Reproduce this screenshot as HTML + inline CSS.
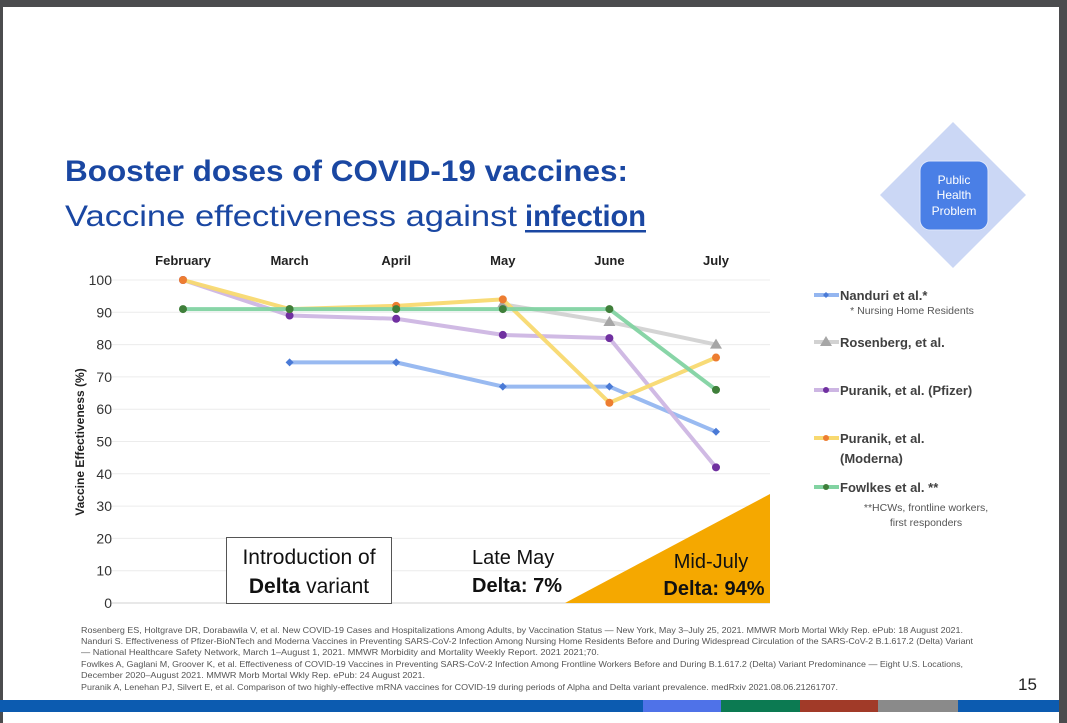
<!DOCTYPE html>
<html><head><meta charset="utf-8"><style>
html,body{margin:0;padding:0;background:#fff}
svg{display:block;font-family:"Liberation Sans",sans-serif}
</style></head><body>
<svg id="c" width="1067" height="723" viewBox="0 0 1067 723" xmlns="http://www.w3.org/2000/svg">
<rect x="0" y="0" width="1067" height="723" fill="#ffffff"/>
<rect x="0" y="0" width="1067" height="7" fill="#4b4c4e"/>
<rect x="0" y="0" width="3" height="723" fill="#4b4c4e"/>
<rect x="1059" y="0" width="8" height="723" fill="#4b4c4e"/>
<text x="65" y="181" font-size="30" font-weight="bold" fill="#1a47a2" textLength="563" lengthAdjust="spacingAndGlyphs">Booster doses of COVID-19 vaccines:</text>
<text x="65" y="226" font-size="30" fill="#1a47a2" textLength="452" lengthAdjust="spacingAndGlyphs">Vaccine effectiveness against</text>
<text x="525" y="226" font-size="30" font-weight="bold" fill="#1a47a2" textLength="121" lengthAdjust="spacingAndGlyphs">infection</text>
<rect x="525" y="230" width="121" height="2.5" fill="#1a47a2"/>
<polygon points="953,122 1026,195 953,268 880,195" fill="#cbd7f5"/>
<rect x="920" y="161" width="68" height="69" rx="10" fill="#4a7fe6" stroke="#dde6fb"/>
<text font-size="12" fill="#fff" text-anchor="middle"><tspan x="954" y="184">Public</tspan><tspan x="954" y="199">Health</tspan><tspan x="954" y="215">Problem</tspan></text>
<g id="chart"></g>
<g id="legend"></g>
<g font-size="8.4" fill="#555" lengthAdjust="spacingAndGlyphs">
<text x="81" y="633" textLength="882" lengthAdjust="spacingAndGlyphs">Rosenberg ES, Holtgrave DR, Dorabawila V, et al. New COVID-19 Cases and Hospitalizations Among Adults, by Vaccination Status — New York, May 3–July 25, 2021. MMWR Morb Mortal Wkly Rep. ePub: 18 August 2021.</text>
<text x="81" y="644" textLength="892" lengthAdjust="spacingAndGlyphs">Nanduri S. Effectiveness of Pfizer-BioNTech and Moderna Vaccines in Preventing SARS-CoV-2 Infection Among Nursing Home Residents Before and During Widespread Circulation of the SARS-CoV-2 B.1.617.2 (Delta) Variant</text>
<text x="81" y="655" textLength="518" lengthAdjust="spacingAndGlyphs">— National Healthcare Safety Network, March 1–August 1, 2021. MMWR Morbidity and Mortality Weekly Report. 2021 2021;70.</text>
<text x="81" y="667" textLength="882" lengthAdjust="spacingAndGlyphs">Fowlkes A, Gaglani M, Groover K, et al. Effectiveness of COVID-19 Vaccines in Preventing SARS-CoV-2 Infection Among Frontline Workers Before and During B.1.617.2 (Delta) Variant Predominance — Eight U.S. Locations,</text>
<text x="81" y="678" textLength="344" lengthAdjust="spacingAndGlyphs">December 2020–August 2021. MMWR Morb Mortal Wkly Rep. ePub: 24 August 2021.</text>
<text x="81" y="690" textLength="757" lengthAdjust="spacingAndGlyphs">Puranik A, Lenehan PJ, Silvert E, et al. Comparison of two highly-effective mRNA vaccines for COVID-19 during periods of Alpha and Delta variant prevalence. medRxiv 2021.08.06.21261707.</text>
</g>
<text x="1018" y="690" font-size="17" fill="#222">15</text>
<g>
<rect x="0" y="700" width="1059" height="12" fill="#0c5bb0"/>
<rect x="643" y="700" width="78" height="12" fill="#4f72e8"/>
<rect x="721" y="700" width="79" height="12" fill="#0c7a52"/>
<rect x="800" y="700" width="78" height="12" fill="#a13a28"/>
<rect x="878" y="700" width="80" height="12" fill="#8a8a8a"/>
</g>
</svg>
<script>
const months = ["February","March","April","May","June","July"];
const yTicks = [0,10,20,30,40,50,60,70,80,90,100];
const nanduri = [null,74.5,74.5,67,67,53];
const rosenberg = [null,null,null,92.5,87,80];
const pfizer = [100,89,88,83,82,42];
const moderna = [100,91,92,94,62,76];
const fowlkes = [91,91,91,91,91,66];
const seriesNames = ["Nanduri et al.*","Rosenberg, et al.","Puranik, et al. (Pfizer)","Puranik, et al. (Moderna)","Fowlkes et al. **"];

const NS="http://www.w3.org/2000/svg";
const X=i=>183+i*106.6;
const Y=v=>603-v*3.23;
const chart=document.getElementById('chart');
function mk(tag,attrs,parent){const e=document.createElementNS(NS,tag);for(const k in attrs)e.setAttribute(k,attrs[k]);(parent||chart).appendChild(e);return e;}

yTicks.forEach(t=>{
  const g=mk('line',{x1:112,x2:770,y1:Y(t),y2:Y(t),stroke:t===0?'#d0d0d0':'#ececec','stroke-width':1});
  
  
  const l=mk('text',{x:112,y:Y(t)+5,'font-size':14,'text-anchor':'end',fill:'#333'});
  
  
  l.textContent=t;
});
months.forEach((m,i)=>{
  const l=mk('text',{x:X(i),y:265,'font-size':13,'font-weight':'bold','text-anchor':'middle',fill:'#222'});
  
  
  l.textContent=m;
});
const yt=mk('text',{transform:'translate(84,442) rotate(-90)','font-size':12,'font-weight':'bold','text-anchor':'middle',fill:'#222'});


yt.textContent='Vaccine Effectiveness (%)';

const tri=mk('polygon',{points:'565,603 770,494 770,603',fill:'#f5a800'});


const box=mk('rect',{x:226.5,y:537.5,width:165,height:66,fill:'#fff',stroke:'#555','stroke-width':1});


function txt(x,y,s,str,w,name,anchor){const t=mk('text',{x:x,y:y,'font-size':s,'font-weight':w,fill:'#111','text-anchor':anchor||'start'});t.textContent=str;return t;}
txt(309,564,21,'Introduction of','normal','intro-text','middle');
const d=txt(309,593,21,'','normal','delta-variant-text','middle');
d.innerHTML='<tspan font-weight="bold">Delta</tspan> variant';
txt(472,564,20,'Late May','normal','late-may-text');
txt(472,592,20,'Delta: 7%','bold','delta-7-text');
txt(711,568,20,'Mid-July','normal','mid-july-text','middle');
txt(714,595,20,'Delta: 94%','bold','delta-94-text','middle');

const styles=[
 {data:nanduri,line:'#94b6f0',dot:'#4a7ad6',shape:'diamond',name:'series-nanduri'},
 {data:rosenberg,line:'#d2d2d2',dot:'#a6a6a6',shape:'triangle',name:'series-rosenberg'},
 {data:pfizer,line:'#cdb6e3',dot:'#7030a0',shape:'circle',name:'series-puranik-pfizer'},
 {data:moderna,line:'#f8d970',dot:'#ed7d31',shape:'circle',name:'series-puranik-moderna'},
 {data:fowlkes,line:'#82d3a2',dot:'#3f7f3a',shape:'circle',name:'series-fowlkes'}
];
function marker(shape,x,y,c,parent,r){
  r=r||4;
  if(shape==='diamond')return mk('polygon',{points:`${x},${y-r} ${x+r},${y} ${x},${y+r} ${x-r},${y}`,fill:c},parent);
  if(shape==='triangle')return mk('polygon',{points:`${x},${y-6} ${x+6},${y+4} ${x-6},${y+4}`,fill:c},parent);
  return mk('circle',{cx:x,cy:y,r:r,fill:c},parent);
}
styles.forEach(s=>{
  const g=mk('g',{});
  
  
  const pts=[];s.data.forEach((v,i)=>{if(v!==null)pts.push([X(i),Y(v)]);});
  const p=mk('polyline',{points:pts.map(p=>p.join(',')).join(' '),fill:'none',stroke:s.line,'stroke-width':4,'stroke-linejoin':'round','stroke-opacity':0.95},g);
  
  
  pts.forEach(pt=>{const m=marker(s.shape,pt[0],pt[1],s.dot,g);
    
    });
});

const leg=document.getElementById('legend');
const legY=[295,342,390,438,487];
styles.forEach((s,i)=>{
  const g=mk('g',{},leg);
  
  
  mk('line',{x1:814,x2:839,y1:legY[i],y2:legY[i],stroke:s.line,'stroke-width':4},g);
  marker(s.shape,826,legY[i],s.dot,g,3);
  const t=mk('text',{x:840,y:legY[i]+5,'font-size':13,'font-weight':'bold',fill:'#404040'},g);
  t.textContent=i===3?'Puranik, et al.':seriesNames[i];
});
const m2=mk('text',{x:840,y:463,'font-size':13,'font-weight':'bold',fill:'#404040'},leg);


m2.textContent='(Moderna)';
function note(x,y,s,name){const t=mk('text',{x:x,y:y,'font-size':10.5,fill:'#555','text-anchor':'middle'},leg);t.textContent=s;}
note(912,314,'* Nursing Home Residents','legend-note-nanduri');
note(926,511,'**HCWs, frontline workers,','legend-note-fowlkes');
note(926,526,'first responders','legend-note-fowlkes-2');
</script>
</body></html>
